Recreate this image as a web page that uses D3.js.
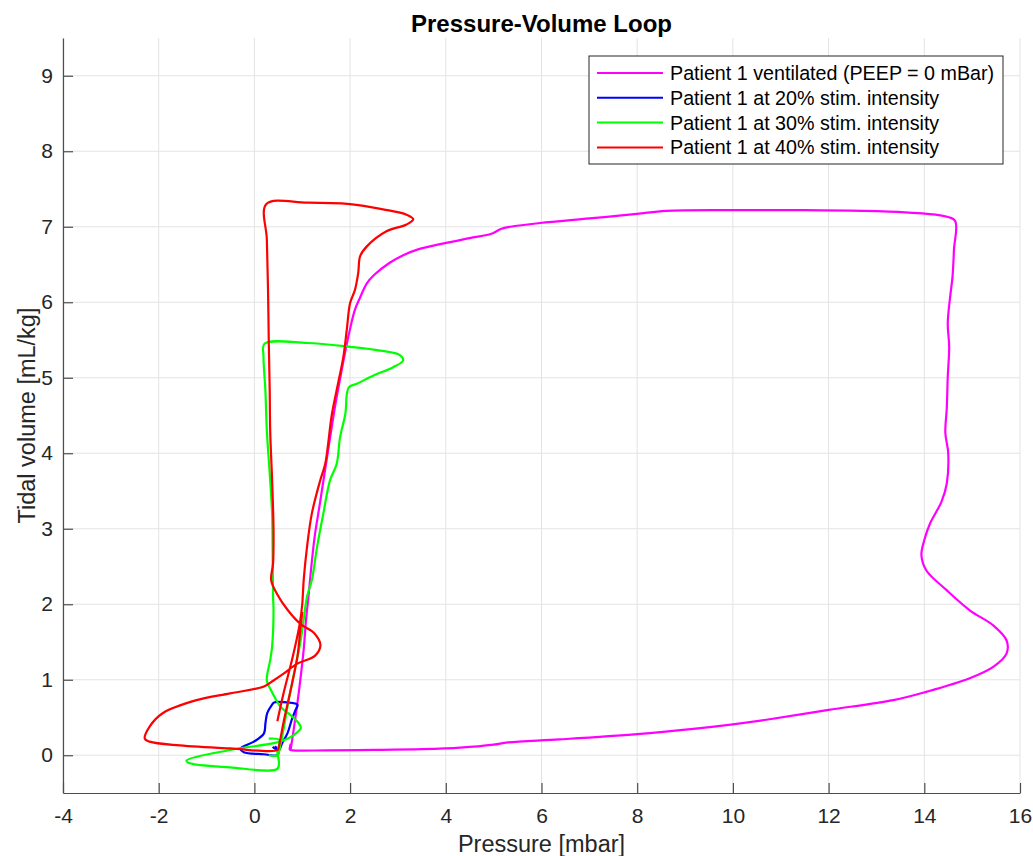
<!DOCTYPE html>
<html>
<head>
<meta charset="utf-8">
<script src="https://cdn.jsdelivr.net/npm/d3@7"></script>
<style>
  body { margin: 0; background: #fff; }
  svg { font-family: "Liberation Sans", Arial, sans-serif; }
  .grid line { stroke: #e3e3e3; stroke-width: 1; }
  .axis path, .axis line { stroke: #4d4d4d; }
  .axis text { fill: #262626; font-size: 21px; font-family: "Liberation Sans", Arial, sans-serif; }
</style>
</head>
<body>
<svg id="chart" width="1033" height="856"></svg>
<script>
// Pressure [mbar], tidal volume [mL/kg] pairs
const ventilated = [
  [0.76, 0.08], [0.80, 0.25], [0.88, 0.6], [0.96, 1.0], [1.03, 1.4], [1.08, 1.8],
  [1.13, 2.1], [1.19, 2.5], [1.26, 2.9], [1.36, 3.3], [1.47, 3.75], [1.58, 4.2],
  [1.68, 4.6], [1.78, 4.95], [1.9, 5.35], [2.0, 5.65], [2.1, 5.9], [2.2, 6.05],
  [2.35, 6.25], [2.5, 6.36], [2.82, 6.52], [3.1, 6.62], [3.42, 6.7], [3.96, 6.78],
  [4.5, 6.85], [4.97, 6.91], [5.15, 6.97], [5.35, 7.0], [5.97, 7.05], [7.0, 7.11],
  [7.99, 7.17], [8.6, 7.21], [10.0, 7.22], [11.5, 7.22], [12.7, 7.21], [13.6, 7.19],
  [14.33, 7.15], [14.64, 7.08], [14.62, 6.7], [14.59, 6.34], [14.54, 6.07],
  [14.49, 5.72], [14.52, 5.41], [14.49, 5.01], [14.47, 4.6], [14.44, 4.27],
  [14.5, 4.0], [14.47, 3.6], [14.36, 3.36], [14.12, 3.07], [14.0, 2.85],
  [13.94, 2.65], [14.04, 2.45], [14.46, 2.19], [14.95, 1.92], [15.44, 1.72],
  [15.72, 1.52], [15.72, 1.35], [15.44, 1.17], [14.95, 1.02], [14.04, 0.84],
  [13.35, 0.73], [12.0, 0.6], [10.7, 0.47], [10.0, 0.41], [9.17, 0.35], [8.0, 0.28],
  [6.38, 0.21], [5.3, 0.17], [5.0, 0.14], [4.3, 0.1], [3.5, 0.08], [2.5, 0.07],
  [1.5, 0.065], [0.8, 0.065], [0.74, 0.075], [0.76, 0.15]
];

const stim20 = [
  [0.43, 0.12], [0.5, 0.05], [0.48, 0.0], [0.2, 0.013], [-0.22, 0.04], [-0.29, 0.09],
  [-0.01, 0.18], [0.2, 0.29], [0.23, 0.42], [0.27, 0.56], [0.37, 0.67], [0.41, 0.70],
  [0.69, 0.70], [0.9, 0.67], [0.86, 0.6], [0.79, 0.49], [0.69, 0.29], [0.58, 0.16],
  [0.51, 0.07], [0.38, 0.11]
];

const stim30 = [
  [0.3, 0.0], [0.48, 0.0], [0.55, 0.16], [0.62, 0.38], [0.69, 0.64], [0.83, 1.09],
  [0.97, 1.53], [1.03, 1.8], [1.10, 2.1], [1.2, 2.32], [1.31, 2.76], [1.44, 3.2],
  [1.58, 3.64], [1.72, 3.86], [1.79, 4.21], [1.9, 4.52], [1.97, 4.87], [2.14, 4.92],
  [2.49, 5.03], [2.9, 5.14], [3.11, 5.23], [3.04, 5.3], [2.63, 5.36], [2.0, 5.41],
  [1.1, 5.46], [0.21, 5.45], [0.19, 5.28], [0.23, 4.83], [0.26, 4.3], [0.33, 3.64],
  [0.37, 3.2], [0.38, 2.76], [0.39, 2.1], [0.40, 1.92], [0.37, 1.44], [0.33, 1.26],
  [0.26, 0.99], [0.34, 0.87], [0.55, 0.64], [0.76, 0.53], [0.93, 0.42], [0.97, 0.36],
  [0.83, 0.27], [0.62, 0.2], [0.41, 0.16], [-0.51, 0.07], [-1.42, -0.07],
  [-1.38, -0.10], [-0.51, -0.16], [0.48, -0.18], [0.51, -0.07], [0.48, 0.03],
  [0.52, 0.2], [0.3, 0.22]
];

const stim40 = [
  [0.48, 0.45], [0.62, 0.85], [0.8, 1.3], [0.95, 1.75], [1.0, 2.0], [1.03, 2.32],
  [1.10, 2.76], [1.2, 3.2], [1.375, 3.64], [1.48, 3.86], [1.62, 4.52], [1.76, 4.96],
  [1.86, 5.28], [1.93, 5.63], [2.0, 5.99], [2.10, 6.16], [2.17, 6.39], [2.21, 6.61],
  [2.35, 6.74], [2.76, 6.94], [3.18, 7.03], [3.32, 7.1], [3.18, 7.16], [2.69, 7.23],
  [2.0, 7.3], [1.10, 7.32], [0.25, 7.3], [0.26, 6.83], [0.285, 6.16], [0.30, 5.5],
  [0.32, 4.83], [0.33, 4.3], [0.37, 3.64], [0.40, 2.98], [0.39, 2.54], [0.35, 2.32],
  [0.47, 2.14], [0.70, 1.92], [0.96, 1.74], [1.26, 1.61], [1.38, 1.46], [1.27, 1.32],
  [0.89, 1.21], [0.61, 1.08], [0.40, 0.99], [0.2, 0.91], [-0.51, 0.82], [-1.21, 0.73],
  [-1.91, 0.56], [-2.19, 0.38], [-2.29, 0.22], [-2.19, 0.18], [-1.56, 0.13],
  [-0.51, 0.09], [0.48, 0.067], [0.51, 0.11], [0.55, 0.24], [0.62, 0.47],
  [0.76, 0.87], [0.9, 1.31], [0.95, 1.6], [1.0, 1.9]
];

const seriesLabels = [
  "Patient 1 ventilated (PEEP = 0 mBar)",
  "Patient 1 at 20% stim. intensity",
  "Patient 1 at 30% stim. intensity",
  "Patient 1 at 40% stim. intensity"
];
const seriesColors = ["#ff00ff", "#0000ff", "#00ff00", "#ff0000"];
const seriesData = [ventilated, stim20, stim30, stim40];

const xTicks = [-4, -2, 0, 2, 4, 6, 8, 10, 12, 14, 16];
const yTicks = [0, 1, 2, 3, 4, 5, 6, 7, 8, 9];

const svg = d3.select("#chart");
const plotLeft = 63, plotRight = 1020, plotTop = 38, plotBottom = 793;

const x = d3.scaleLinear().domain([-4, 16]).range([plotLeft, plotRight]);
const y = d3.scaleLinear().domain([-0.5, 9.5]).range([plotBottom, plotTop]);

// grid
const grid = svg.append("g").attr("class", "grid");
grid.selectAll(".gx").data(xTicks).enter().append("line")
  .attr("x1", (d) => x(d)).attr("x2", (d) => x(d))
  .attr("y1", plotTop).attr("y2", plotBottom);
grid.selectAll(".gy").data(yTicks).enter().append("line")
  .attr("x1", plotLeft).attr("x2", plotRight)
  .attr("y1", (d) => y(d)).attr("y2", (d) => y(d));

// axes with inward ticks, plain hyphen for negatives
const xAxis = svg.append("g")
  .attr("class", "axis")
  .attr("transform", `translate(0,${plotBottom})`)
  .call(d3.axisBottom(x).tickValues(xTicks).tickFormat((d) => String(d))
    .tickSize(-10).tickSizeOuter(0).tickPadding(15));
const yAxis = svg.append("g")
  .attr("class", "axis")
  .attr("transform", `translate(${plotLeft},0)`)
  .call(d3.axisLeft(y).tickValues(yTicks).tickFormat((d) => String(d))
    .tickSize(-10).tickSizeOuter(0).tickPadding(10));
svg.selectAll(".axis path").attr("stroke-width", 1.2);
svg.selectAll(".axis .tick line").attr("stroke-width", 1.2);

// loops
const line = d3.line()
  .x((d) => x(d[0]))
  .y((d) => y(d[1]))
  .curve(d3.curveCatmullRom.alpha(0.5));

svg.append("g").selectAll("path")
  .data(seriesData)
  .enter().append("path")
  .attr("d", line)
  .attr("fill", "none")
  .attr("stroke", (_, i) => seriesColors[i])
  .attr("stroke-width", 2.2)
  .attr("stroke-linejoin", "round");

// titles
svg.append("text")
  .attr("x", (plotLeft + plotRight) / 2).attr("y", 32)
  .attr("text-anchor", "middle")
  .attr("font-size", "24px").attr("font-weight", "bold")
  .attr("fill", "#000")
  .text("Pressure-Volume Loop");
svg.append("text")
  .attr("x", (plotLeft + plotRight) / 2).attr("y", 852)
  .attr("text-anchor", "middle")
  .attr("font-size", "23.5px").attr("fill", "#262626")
  .text("Pressure [mbar]");
svg.append("text")
  .attr("transform", `translate(35,${(plotTop + plotBottom) / 2}) rotate(-90)`)
  .attr("text-anchor", "middle")
  .attr("font-size", "23.5px").attr("fill", "#262626")
  .text("Tidal volume [mL/kg]");

// legend
const legend = svg.append("g").attr("transform", "translate(589,56)");
legend.append("rect")
  .attr("width", 414).attr("height", 108)
  .attr("fill", "#fff").attr("stroke", "#262626").attr("stroke-width", 1);
const rows = legend.selectAll(".row").data(seriesLabels).enter().append("g")
  .attr("transform", (_, i) => `translate(0,${17 + i * 24.8})`);
rows.append("line")
  .attr("x1", 8).attr("x2", 74)
  .attr("stroke", (_, i) => seriesColors[i]).attr("stroke-width", 2);
rows.append("text")
  .attr("x", 81).attr("dy", "0.35em")
  .attr("font-size", "19.7px").attr("fill", "#000")
  .text((d) => d);
</script>
</body>
</html>
